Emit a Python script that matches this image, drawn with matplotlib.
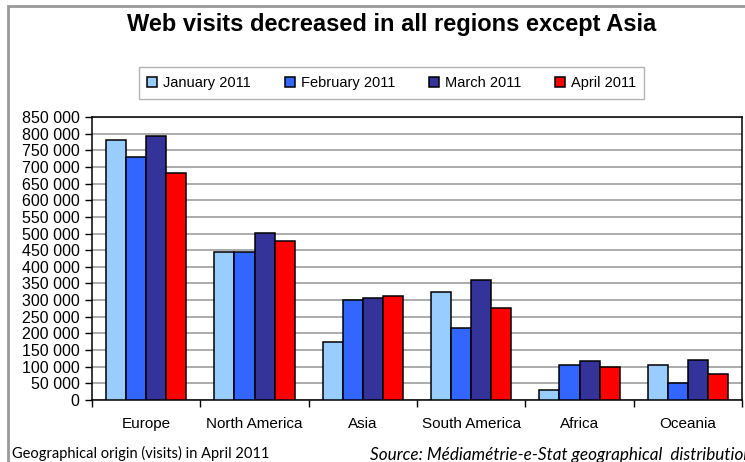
import matplotlib.pyplot as plt
from matplotlib.patches import Rectangle
from matplotlib.ticker import FuncFormatter, MultipleLocator
import numpy as np

# Data
regions = ['Europe', 'North America', 'Asia', 'South America', 'Africa', 'Oceania']
months = ['January 2011', 'February 2011', 'March 2011', 'April 2011']
jan_2011 = [781000, 446000, 173000, 324000, 30000, 104000]
feb_2011 = [729000, 446000, 299000, 216000, 104000, 52000]
mar_2011 = [794000, 502000, 307000, 359000, 116000, 121000]
apr_2011 = [682000, 477000, 311000, 277000, 100000, 78000]
colours = ['#99CCFF', '#3366FF', '#333399', '#FF0000']

plt.rcParams['font.family'] = ['Liberation Sans', 'DejaVu Sans']

fig = plt.figure(figsize=(7.45, 4.62), dpi=100)
ax = fig.add_axes([92 / 745, 1 - 400 / 462, 650 / 745, 283 / 462])

x = np.arange(len(regions))
width = 0.185
series = [jan_2011, feb_2011, mar_2011, apr_2011]
for i, (vals, label, col) in enumerate(zip(series, months, colours)):
    ax.bar(x + (i - 1.5) * width, vals, width, color=col, edgecolor='black',
           linewidth=1.1, label=label, zorder=3)

ax.set_xlim(-0.5, len(regions) - 0.5)
ax.set_ylim(0, 850000)
ax.yaxis.set_major_locator(MultipleLocator(50000))
ax.yaxis.set_major_formatter(FuncFormatter(lambda v, p: f'{int(v):,}'.replace(',', ' ')))
ax.grid(axis='y', color='#a6a6a6', linewidth=1.3, zorder=0)

# category labels between the boundary ticks
ax.set_xticks(np.arange(-0.5, len(regions), 1.0))
ax.set_xticklabels([])
ax.set_xticks(x, minor=True)
ax.set_xticklabels(regions, minor=True)
ax.tick_params(axis='x', which='minor', length=0, pad=12, labelsize=11)
ax.tick_params(axis='x', which='major', length=5, width=1, direction='out')
ax.tick_params(axis='y', length=5, width=1, direction='out', labelsize=11.5, pad=4)
for s in ax.spines.values():
    s.set_linewidth(1.1)
    s.set_color('black')

fig.text(0.526, 1 - 25 / 462, 'Web visits decreased in all regions except Asia',
         ha='center', va='center', fontsize=17, fontweight='bold')

leg = ax.legend(loc='center', bbox_to_anchor=(0.5255, 0.8203), bbox_transform=fig.transFigure,
                ncol=4, fontsize=10.5, frameon=True, fancybox=False, edgecolor='#a0a0a0',
                handlelength=0.7, handleheight=0.7, handletextpad=0.4, columnspacing=2.3,
                borderpad=0.6)
leg.get_frame().set_linewidth(1.0)

# Outer chart frame
fig.patches.append(Rectangle((8 / 745, -0.1), 1.2, 1 - 6 / 462 + 0.1, transform=fig.transFigure,
                             fill=False, edgecolor='#999999', linewidth=2))

fig.text(12 / 745, 1 - 453 / 462, 'Geographical origin (visits) in April 2011',
         ha='left', va='center', fontsize=10.5, family=['Lato', 'DejaVu Sans'])
# the source line runs past the right edge in the reference too
fig.text(370 / 745, 1 - 455 / 462, 'Source: Médiamétrie-e-Stat geographical  distribution',
         ha='left', va='center', fontsize=12.3, style='italic', family=['Lato', 'DejaVu Sans'])

fig.savefig('out.png', dpi=100)
